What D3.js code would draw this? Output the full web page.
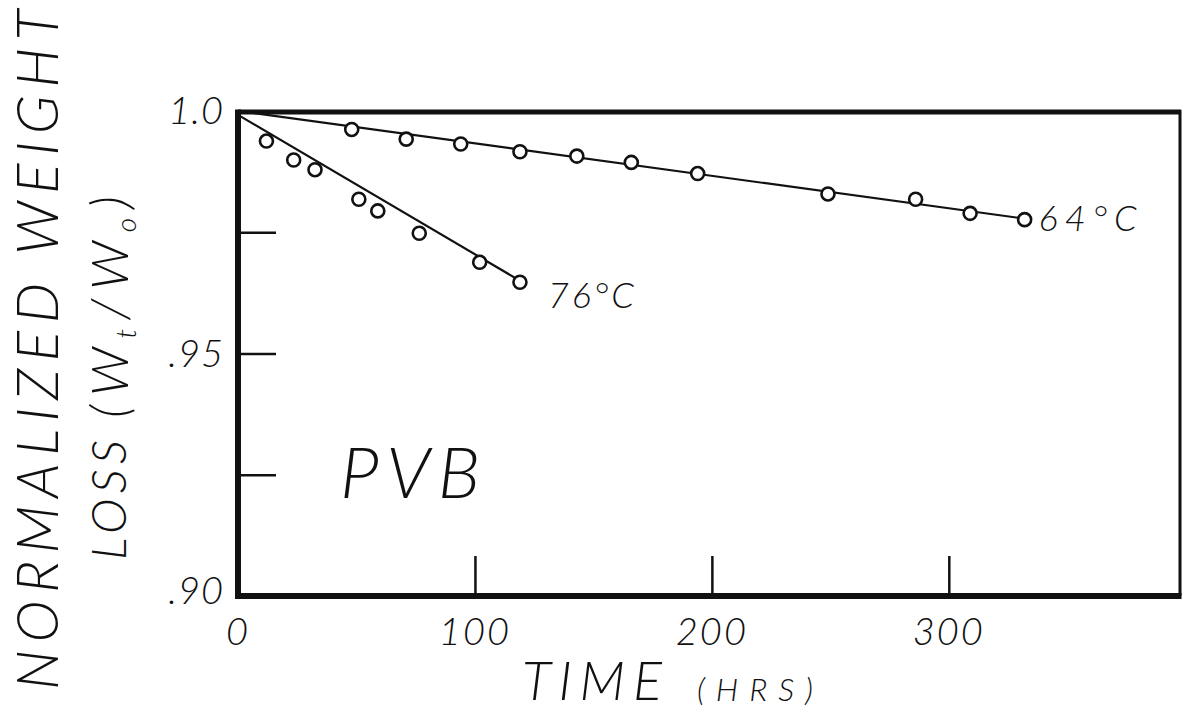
<!DOCTYPE html>
<html><head><meta charset="utf-8">
<script src="https://cdn.jsdelivr.net/npm/d3@7"></script>
<style>
html,body{margin:0;padding:0;background:#fff;}
svg{display:block;}
text{font-family:Lato,"Open Sans","DejaVu Sans",sans-serif;font-style:italic;font-weight:300;fill:#111;}
</style></head>
<body><svg id="chart" width="1184" height="712"></svg>
<script>
// ---- data ----
const series64Time  = [48, 71, 94, 119, 143, 166, 194, 249, 286, 309, 332];
const series64Value = [0.9962, 0.9942, 0.9932, 0.9916, 0.9907, 0.9894, 0.9871, 0.9829, 0.9818, 0.9789, 0.9776];
const series76Time  = [12, 23.5, 32.5, 51, 59, 76.5, 102, 119];
const series76Value = [0.9938, 0.9899, 0.9879, 0.9818, 0.9794, 0.9748, 0.9688, 0.9647];
const fit64 = [[0, 1.0], [332, 0.9778]];
const fit76 = [[0, 0.9992], [119, 0.9650]];
const xTickValues = [0, 100, 200, 300];
const xTickLabels = ["0", "100", "200", "300"];
const yTickValues = [0.975, 0.95, 0.925];
const yLabelValues = [1.0, 0.95, 0.90];
const yLabelTexts = ["1.0", ".95", ".90"];
const seriesLabels = ["64°C", "76°C"];

const svg = d3.select("#chart");
const x = d3.scaleLinear().domain([0, 398]).range([238, 1181]);
const y = d3.scaleLinear().domain([0.90, 1.0]).range([596, 111]);
const ink = "#111";

// frame: top and right
svg.append("line").attr("x1", x(0)).attr("x2", x(398)).attr("y1", y(1.0)+1).attr("y2", y(1.0)+1)
  .attr("stroke", ink).attr("stroke-width", 5);
svg.append("line").attr("x1", x(398)-1).attr("x2", x(398)-1).attr("y1", y(1.0)-1).attr("y2", y(0.90))
  .attr("stroke", ink).attr("stroke-width", 3);

// left axis (ticks inward)
const yAxis = d3.axisLeft(y).tickValues(yTickValues).tickSize(-38).tickFormat("");
const gy = svg.append("g").attr("transform", `translate(${x(0)},0)`).call(yAxis);
gy.select(".domain").remove();
gy.selectAll(".tick line").attr("stroke", ink).attr("stroke-width", 2.5);
svg.append("line").attr("x1", x(0)).attr("x2", x(0)).attr("y1", y(1.0)-1.5).attr("y2", y(0.90)+3)
  .attr("stroke", ink).attr("stroke-width", 6);

// bottom axis (ticks inward)
const xAxis = d3.axisBottom(x).tickValues(xTickValues.slice(1)).tickSize(-40).tickFormat("");
const gx = svg.append("g").attr("transform", `translate(0,${y(0.90)})`).call(xAxis);
gx.select(".domain").remove();
gx.selectAll(".tick line").attr("stroke", ink).attr("stroke-width", 2.5);
svg.append("line").attr("x1", x(0)-3).attr("x2", x(398)+0.5).attr("y1", y(0.90)).attr("y2", y(0.90))
  .attr("stroke", ink).attr("stroke-width", 6);

// tick labels
svg.selectAll(".ylab").data(yLabelValues).enter().append("text")
  .attr("x", 224).attr("y", (d, i) => y(d) + (i === 2 ? 8 : 13))
  .attr("text-anchor", "end").attr("font-size", 38).attr("letter-spacing", 1)
  .text((d, i) => yLabelTexts[i]);
svg.selectAll(".xlab").data(xTickValues).enter().append("text")
  .attr("x", d => x(d)).attr("y", 645)
  .attr("text-anchor", "middle").attr("font-size", 38).attr("letter-spacing", 2)
  .text((d, i) => xTickLabels[i]);

// fit lines
const line = d3.line().x(d => x(d[0])).y(d => y(d[1]));
[fit64, fit76].forEach(f => {
  svg.append("path").attr("d", line(f)).attr("fill", "none").attr("stroke", ink).attr("stroke-width", 2.2);
});

// points
function drawPoints(ts, vs) {
  svg.selectAll(null).data(ts).enter().append("circle")
    .attr("cx", d => x(d)).attr("cy", (d, i) => y(vs[i])).attr("r", 6.5)
    .attr("fill", "#fff").attr("stroke", ink).attr("stroke-width", 2.6);
}
drawPoints(series64Time, series64Value);
drawPoints(series76Time, series76Value);

// series labels
svg.append("text").attr("x", x(332) + 14).attr("y", y(0.9778) + 12).attr("font-size", 36)
  .attr("textLength", 98).attr("lengthAdjust", "spacing").text(seriesLabels[0]);
svg.append("text").attr("x", x(119) + 28).attr("y", y(0.9646) + 25).attr("font-size", 36)
  .attr("textLength", 86).attr("lengthAdjust", "spacing").text(seriesLabels[1]);

// PVB
svg.append("text").attr("x", 340).attr("y", 498).attr("font-size", 72)
  .attr("textLength", 140).attr("lengthAdjust", "spacing").text("PVB");

// x title
svg.append("text").attr("x", 522).attr("y", 700).attr("font-size", 54).attr("textLength", 140)
  .attr("lengthAdjust", "spacing").text("TIME");
svg.append("text").attr("x", 697).attr("y", 701).attr("font-size", 32).attr("textLength", 116)
  .attr("lengthAdjust", "spacing").text("(HRS)");

// y title
const yt = svg.append("g").attr("transform", "translate(58,690) rotate(-90)");
yt.append("text").attr("x", 0).attr("y", 0).attr("font-size", 57).attr("textLength", 680)
  .attr("lengthAdjust", "spacing").text("NORMALIZED  WEIGHT");
const yt2 = svg.append("g").attr("transform", "translate(126,560) rotate(-90)");
yt2.append("text").attr("x", 0).attr("y", 0).attr("font-size", 48).attr("textLength", 120).text("LOSS");
const frac = yt2.append("text").attr("x", 142).attr("y", 2).attr("font-size", 52)
  .attr("textLength", 222).attr("lengthAdjust", "spacing");
frac.append("tspan").text("(W");
frac.append("tspan").attr("font-size", 28).attr("dy", 8).text("t");
frac.append("tspan").attr("dy", -8).text("/W");
frac.append("tspan").attr("font-size", 28).attr("dy", 8).text("o");
frac.append("tspan").attr("dy", -8).text(")");
</script></body></html>
